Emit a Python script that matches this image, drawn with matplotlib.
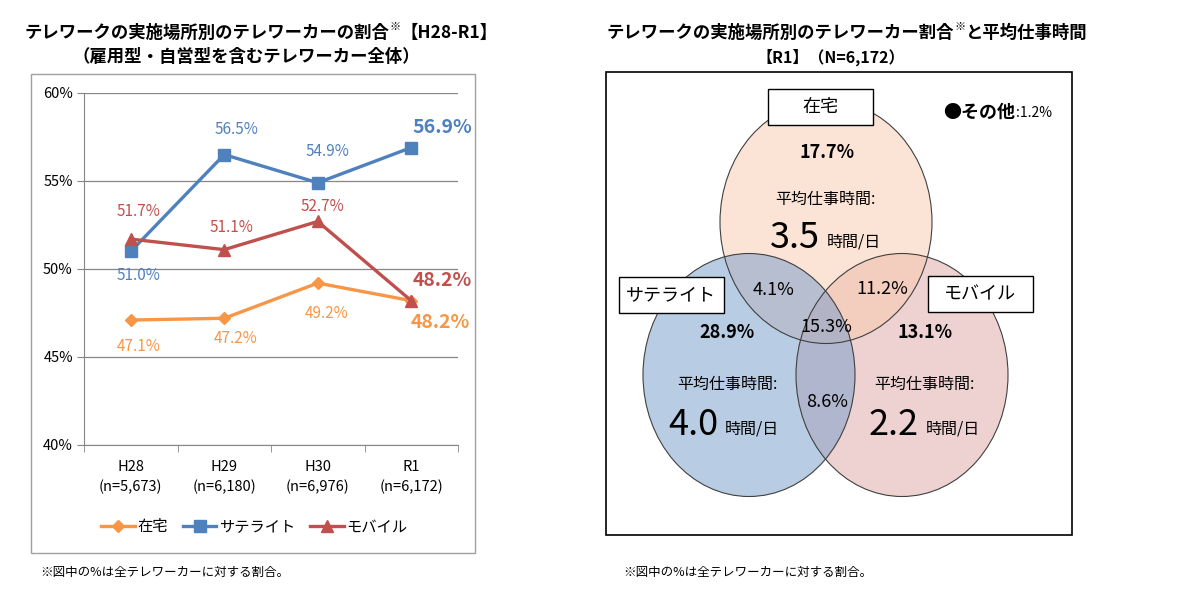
import matplotlib
matplotlib.use("Agg")
import matplotlib.pyplot as plt
from matplotlib.patches import Rectangle, Ellipse
import numpy as np

plt.rcParams['font.family'] = ['Noto Sans CJK JP', 'DejaVu Sans']

# ---- data ----
years = ["H28", "H29", "H30", "R1"]
sample_n = ["5,673", "6,180", "6,976", "6,172"]
zaitaku = [47.1, 47.2, 49.2, 48.2]
satellite = [51.0, 56.5, 54.9, 56.9]
mobile = [51.7, 51.1, 52.7, 48.2]
series_names = ["在宅", "サテライト", "モバイル"]

venn_names = ["在宅", "サテライト", "モバイル"]
venn_only = [17.7, 28.9, 13.1]
venn_hours = [3.5, 4.0, 2.2]
pair_zs = 4.1   # 在宅+サテライト
pair_zm = 11.2  # 在宅+モバイル
pair_sm = 8.6   # サテライト+モバイル
venn_all = 15.3
other_share = 1.2
n_total = "6,172"

W, H = 1185, 589
fig = plt.figure(figsize=(W / 100, H / 100), dpi=100)

# overlay in pixel units for boxes / venn / titles
ov = fig.add_axes([0, 0, 1, 1], zorder=0)
ov.set_xlim(0, W)
ov.set_ylim(H, 0)
ov.axis('off')

# ---------------- left chart ----------------
ov.add_patch(Rectangle((31, 74), 444, 479, fill=False, ec='#A0A0A0', lw=1))
t1 = ov.text(25, 33, "テレワークの実施場所別のテレワーカーの割合", fontsize=12.5,
             fontweight='bold', va='center', ha='left')
t2 = ov.annotate("※", xy=(1, 0.55), xycoords=t1, fontsize=8, va='bottom', ha='left')
ov.annotate("【H28-R1】", xy=(1, 0.5), xycoords=(t2, t1), xytext=(0, 0),
            textcoords='offset points', fontsize=12.5, fontweight='bold',
            va='center', ha='left')
ov.text(246, 57, "（雇用型・自営型を含むテレワーカー全体）", fontsize=12.5,
        fontweight='bold', va='center', ha='center')

ax = fig.add_axes([84 / W, 1 - 445 / H, 374 / W, 352 / H], zorder=1)
x = np.arange(len(years))
ax.set_xlim(-0.5, len(years) - 0.5)
ax.set_ylim(40, 60)
ax.set_yticks([40, 45, 50, 55, 60])
ax.set_yticklabels([f"{v}%" for v in [40, 45, 50, 55, 60]], fontsize=10.5)
ax.set_xticks(x)
ax.set_xticklabels([f"{y}\n(n={n})" for y, n in zip(years, sample_n)], fontsize=10.5,
                   linespacing=1.45)
ax.set_xticks(np.arange(-0.5, len(years)), minor=True)
ax.tick_params(axis='x', which='major', length=0, pad=11)
ax.tick_params(axis='x', which='minor', length=5, color='#868686')
ax.tick_params(axis='y', length=5, color='#868686', pad=3)
ax.grid(axis='y', color='#868686', lw=0.9)
ax.set_axisbelow(True)
for s in ['top', 'right']:
    ax.spines[s].set_visible(False)
for s in ['left', 'bottom']:
    ax.spines[s].set_color('#868686')

colors = ['#F79646', '#4F81BD', '#C0504D']
markers = ['D', 's', '^']
msizes = [6, 8, 8.5]
series = [zaitaku, satellite, mobile]
for vals, c, m, ms, name in zip(series, colors, markers, msizes, series_names):
    ax.plot(x, vals, color=c, marker=m, ms=ms, lw=2.4, label=name, clip_on=False)

# label offsets in pixels (dx, dy down)
offsets = [
    [(8, 26), (11, 20), (9, 30), (29, 22)],
    [(8, 24), (12, -25), (10, -31), (31, -20)],
    [(8, -28), (7, -22), (5, -15), (31, -20)],
]
for vals, c, offs in zip(series, colors, offsets):
    for i, (v, (dx, dy)) in enumerate(zip(vals, offs)):
        last = i == len(vals) - 1
        ax.annotate(f"{v:.1f}%", xy=(x[i], v), xytext=(dx * 0.72, -dy * 0.72),
                    textcoords='offset points', ha='center', va='center', color=c,
                    fontsize=14 if last else 11, fontweight='bold' if last else 'normal')

ax.legend(loc='center', bbox_to_anchor=(0.455, 1 - (527 - 93) / 352), ncol=3, frameon=False,
          fontsize=11, handlelength=2.2, handletextpad=0.15, columnspacing=1.0)

ov.text(40, 572, "※図中の%は全テレワーカーに対する割合。", fontsize=9, va='center', ha='left')

# ---------------- right chart (venn) ----------------
ov.add_patch(Rectangle((606, 72), 466, 463, fill=False, ec='black', lw=1.2))
r1 = ov.text(607, 33, "テレワークの実施場所別のテレワーカー割合", fontsize=12.5,
             fontweight='bold', va='center', ha='left')
r2 = ov.annotate("※", xy=(1, 0.55), xycoords=r1, fontsize=8, va='bottom', ha='left')
ov.annotate("と平均仕事時間", xy=(1, 0.5), xycoords=(r2, r1), xytext=(0, 0),
            textcoords='offset points', fontsize=12.5, fontweight='bold',
            va='center', ha='left')
ov.text(831, 57, f"【R1】（N={n_total}）", fontsize=11.5, fontweight='bold',
        va='center', ha='center')

ew, eh = 212, 243
centers = [(826, 222), (749, 375), (902, 375)]
fills = ['#F9C9AD', '#739BCB', '#DFA7A5']
order = [2, 0, 1]
for k in order:
    ov.add_patch(Ellipse(centers[k], ew, eh, fc=fills[k], alpha=0.5, ec='none'))
for k in order:
    ov.add_patch(Ellipse(centers[k], ew, eh, fc='none', ec='#404040', lw=0.8))

boxes = [(768, 89), (619, 277), (928, 276)]
for name, (bx, by) in zip(venn_names, boxes):
    ov.add_patch(Rectangle((bx, by), 105, 36, fc='white', ec='black', lw=1))
    ov.text(bx + 52, by + 18, name, fontsize=13, ha='center', va='center')

only_pos = [(827, 152), (727, 332), (925, 332)]
label_pos = [(825, 199), (727, 384), (924, 384)]
hour_pos = [(795, 238), (693, 425), (894, 425)]
for v, (px, py) in zip(venn_only, only_pos):
    ov.text(px, py, f"{v:.1f}%", fontsize=13, fontweight='bold', ha='center', va='center')
for (px, py) in label_pos:
    ov.text(px, py, "平均仕事時間:", fontsize=11.5, ha='center', va='center')
for hv, (px, py) in zip(venn_hours, hour_pos):
    t = ov.text(px, py, f"{hv:.1f}", fontsize=26, ha='center', va='center')
    ov.annotate("時間/日", xy=(1, 0.4), xycoords=t, xytext=(5, 0),
                textcoords='offset points', fontsize=11.5, ha='left', va='center')

ov.text(774, 290, f"{pair_zs:.1f}%", fontsize=13, ha='center', va='center')
ov.text(882, 289, f"{pair_zm:.1f}%", fontsize=13, ha='center', va='center')
ov.text(827, 402, f"{pair_sm:.1f}%", fontsize=13, ha='center', va='center')
ov.text(826, 327, f"{venn_all:.1f}%", fontsize=13, ha='center', va='center')

o1 = ov.text(943, 112, "●その他", fontsize=13, fontweight='bold', ha='left', va='center')
ov.annotate(f":{other_share:.1f}%", xy=(1, 0.45), xycoords=o1, xytext=(1, 0),
            textcoords='offset points', fontsize=10, ha='left', va='center')

ov.text(623, 572, "※図中の%は全テレワーカーに対する割合。", fontsize=9, va='center', ha='left')

fig.savefig("out.png", dpi=100)
